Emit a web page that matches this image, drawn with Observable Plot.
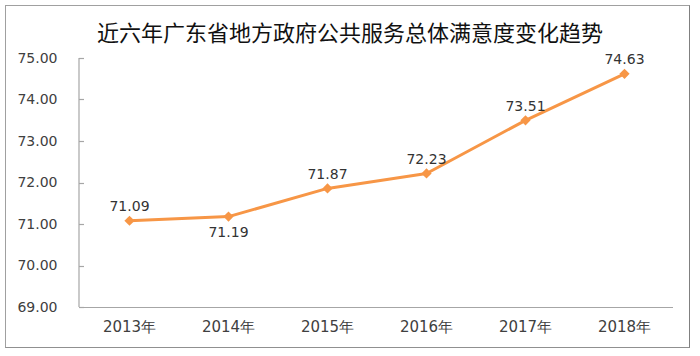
<!DOCTYPE html>
<html><head><meta charset="utf-8">
<script src="https://cdn.jsdelivr.net/npm/d3@7"></script>
<script src="https://cdn.jsdelivr.net/npm/@observablehq/plot@0.6"></script>
<style>
body{margin:0;background:#fff;width:700px;height:356px;position:relative;overflow:hidden}
#frame{position:absolute;left:5px;top:5px;width:685px;height:343px;border:1.5px solid #a0a0a0;border-right-color:#808080;border-bottom-color:#909090;box-sizing:border-box}
#title{position:absolute;top:16px;left:0;width:700px;text-align:center;font:22px "Noto Sans CJK SC";color:#111;line-height:30px}
#chart{position:absolute;top:45px;left:0}
</style></head>
<body>
<div id="frame"></div>
<div id="title">近六年广东省地方政府公共服务总体满意度变化趋势</div>
<div id="chart"></div>
<script>
const years = ["2013年","2014年","2015年","2016年","2017年","2018年"];
const scores = [71.09, 71.19, 71.87, 72.23, 73.51, 74.63];
const yTicks = [69, 70, 71, 72, 73, 74, 75];
const labelsBelow = ["2014年"];

const data = years.map((y, i) => ({year: y, score: scores[i]}));
const orange = "#F79646";
const axisGray = "#a6a6a6";

// y axis line with inward tick marks, drawn through the plot's y scale
function yAxisLine(index, scales, values, dims) {
  const g = d3.create("svg:g").attr("stroke", axisGray).attr("stroke-width", 1.2);
  const x0 = dims.marginLeft;
  g.append("line").attr("x1", x0).attr("x2", x0)
    .attr("y1", dims.marginTop).attr("y2", dims.height - dims.marginBottom);
  for (const t of yTicks) {
    const y = Math.round(scales.y(t)) + 0.5;
    g.append("line").attr("x1", x0).attr("x2", x0 + 5).attr("y1", y).attr("y2", y);
  }
  return g.node();
}

const chart = Plot.plot({
  width: 700,
  height: 300,
  marginTop: 13,
  marginBottom: 38,
  marginLeft: 79,
  marginRight: 27,
  style: {fontFamily: "DejaVu Sans", fontSize: "14px", color: "#404040", background: "transparent"},
  x: {type: "point", domain: years, padding: 0.5, label: null},
  y: {domain: [69, 75], label: null},
  marks: [
    Plot.ruleY([69], {stroke: axisGray, strokeWidth: 1.2}),
    yAxisLine,
    Plot.axisY({ticks: yTicks, tickSize: 0, tickPadding: 22, tickFormat: d => d.toFixed(2), fill: "#404040", fontSize: 14, label: null}),
    Plot.axisX({tickSize: 0, tickPadding: 14, fontSize: 15, fill: "#404040", label: null}),
    Plot.line(data, {x: "year", y: "score", stroke: orange, strokeWidth: 3}),
    Plot.dot(data, {x: "year", y: "score", symbol: "diamond2", r: 4.6, fill: orange, stroke: "none"}),
    Plot.text(data.filter(d => !labelsBelow.includes(d.year)), {x: "year", y: "score", text: d => d.score.toFixed(2), dy: -14, fontSize: 14, fill: "#333"}),
    Plot.text(data.filter(d => labelsBelow.includes(d.year)), {x: "year", y: "score", text: d => d.score.toFixed(2), dy: 16, fontSize: 14, fill: "#333"})
  ]
});
document.getElementById("chart").appendChild(chart);
</script>
</body></html>
